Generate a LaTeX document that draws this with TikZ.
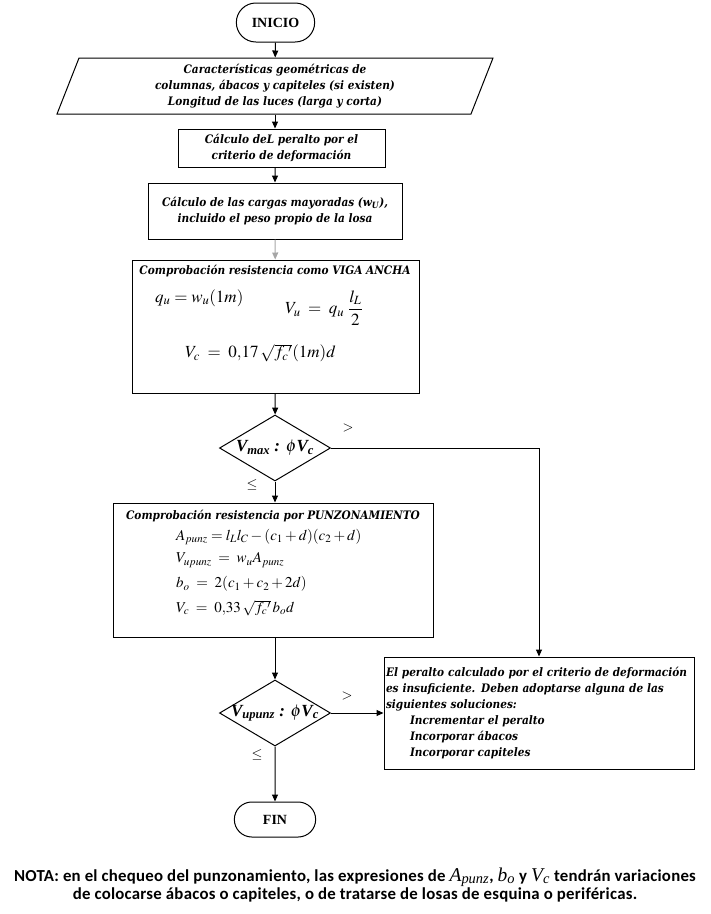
\documentclass[tikz,border=0pt]{standalone}
\usepackage{mathptmx}
\usepackage{fontspec}
\setmainfont{Liberation Serif}
\newfontfamily\boxfont{DejaVuSerifCondensed-BoldItalic.ttf}
\newfontfamily\notafont[LetterSpace=1.5]{Carlito}
\usetikzlibrary{arrows.meta,shapes.geometric,shapes.misc,positioning}
\newcommand{\notavar}[2]{{\rmfamily\mdseries\itshape\fontsize{19.5}{17}\selectfont #1\textsubscript{#2}}}
\newcommand{\cond}[1]{\makebox[0pt]{#1}}
\begin{document}
\begin{tikzpicture}[
    x=1pt, y=-1pt,
    node/.style={%
      draw,
      rectangle,
      line width=1pt,
      inner sep=2pt,
      align=center,
      font=\fontsize{11.7}{16}\selectfont\boxfont,
    },
    terminal/.style={draw, rounded rectangle, line width=1pt, font=\fontsize{14}{15}\selectfont\bfseries},
    datain/.style={draw, trapezium, trapezium left angle=63.4, trapezium right angle=116.6,
      trapezium stretches body, line width=1pt, inner sep=0pt, align=center,
      font=\fontsize{11.7}{16}\selectfont\boxfont},
    decision/.style={draw, diamond, line width=1pt, minimum width=111pt, minimum height=66pt,
      inner sep=0pt, font=\fontsize{17}{18}\selectfont\bfseries\itshape},
    formula/.style={inner sep=0pt, anchor=west, font=\fontsize{15}{16}\selectfont},
    bigformula/.style={formula, font=\fontsize{17}{18}\selectfont},
    branch/.style={inner sep=0pt, font=\fontsize{14}{16}\selectfont},
    arrow/.style={-{Triangle[length=7pt,width=6pt]}, line width=1pt},
  ]
    \useasboundingbox (0,0) rectangle (711,914);
    \node [terminal, minimum width=85pt, minimum height=39pt] (inicio) at (275.5,22.5) {INICIO};
    \node [datain, minimum width=436pt, minimum height=56pt] (datos) at (275,86)
      {Características geométricas de\\columnas, ábacos y capiteles (si existen)\\Longitud de las luces (larga y corta)};
    \node [node, minimum width=207pt, minimum height=38pt] (peralto) at (281.5,148)
      {Cálculo deL peralto por el\\criterio de deformación};
    \node [node, minimum width=254pt, minimum height=56pt] (cargas) at (275,211)
      {Cálculo de las cargas mayoradas (w\textsubscript{U}),\\incluido el peso propio de la losa};
    \node [node, minimum width=287pt, minimum height=133pt] (viga) at (275.5,326.5) {};
    \node [font=\fontsize{11.7}{16}\selectfont\boxfont, inner sep=0pt] (vigaTitulo) at (275,271)
      {Comprobación resistencia como VIGA ANCHA};
    \node [bigformula] (qu) at (155,298) {$q_u = w_u(1m)$};
    \node [bigformula] (vu) at (285,308) {$V_u \;=\; q_u\;\displaystyle\frac{l_L}{2}$};
    \node [bigformula] (vcViga) at (185,353) {$V_c \;=\; 0{,}17\,\sqrt{f_c{}'}(1m)d$};
    \node [decision] (vmax) at (275,448) {\cond{V\textsubscript{max} : $\phi$V\textsubscript{c}}};
    \node [node, minimum width=320pt, minimum height=134pt] (punz) at (273,570) {};
    \node [font=\fontsize{11.7}{16}\selectfont\boxfont, inner sep=0pt] (punzTitulo) at (273,516)
      {Comprobación resistencia por PUNZONAMIENTO};
    \node [formula] (apunz) at (176,537) {$A_{punz} = l_L l_C - (c_1 + d)(c_2 + d)$};
    \node [formula] (vupunz) at (176,560) {$V_{upunz} \;=\; w_u A_{punz}$};
    \node [formula] (bo) at (176,584) {$b_o \;=\; 2(c_1 + c_2 + 2d)$};
    \node [formula] (vcPunz) at (176,608) {$V_c \;=\; 0{,}33\,\sqrt{f_c{}'}\,b_o d$};
    \node [decision] (vpunz) at (275,713) {\cond{V\textsubscript{upunz} : $\phi$V\textsubscript{c}}};
    \node [node, align=left, text width=306pt, minimum height=112pt] (solucion) at (539,713)
      {El peralto calculado por el criterio de deformación\\es insuficiente. Deben adoptarse alguna de las\\siguientes soluciones:\\
       \hspace*{24pt}Incrementar el peralto\\\hspace*{24pt}Incorporar ábacos\\\hspace*{24pt}Incorporar capiteles};
    \node [terminal, minimum width=88pt, minimum height=35pt] (fin) at (275,819.5) {FIN};
    \node [font=\fontsize{16.8}{17.5}\selectfont\notafont\bfseries, align=center, inner sep=0pt] (nota) at (355,885)
      {NOTA: en el chequeo del punzonamiento, las expresiones de \notavar{A}{punz}, \notavar{b}{o} y \notavar{V}{c} tendrán variaciones\\
       de colocarse ábacos o capiteles, o de tratarse de losas de esquina o periféricas.};
    \node [branch] (gtMax) at (348,428) {$>$};
    \node [branch] (leMax) at (252,485) {$\leq$};
    \node [branch] (gtPunz) at (347,696) {$>$};
    \node [branch] (lePunz) at (257,755) {$\leq$};
    \draw [arrow] (inicio) -- (datos);
    \draw [arrow] (datos.south) -- (datos.south |- peralto.north);
    \draw [arrow] (peralto.south -| datos.south) -- (cargas.north);
    \draw [arrow, draw=gray!70] (cargas) -- (viga);
    \draw [arrow] (viga) -- (vmax);
    \draw [arrow] (vmax.south) -- (vmax.south |- punz.north);
    \draw [arrow] (vmax.east) -| (solucion.north);
    \draw [arrow] (punz.south -| vpunz.north) -- (vpunz.north);
    \draw [arrow] (vpunz.east) -- (solucion.west);
    \draw [arrow] (vpunz) -- (fin);
\end{tikzpicture}
\end{document}
